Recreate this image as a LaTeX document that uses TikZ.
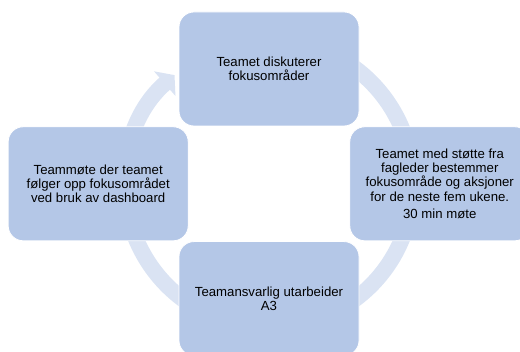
\documentclass[tikz,border=0pt]{standalone}
\usepackage{fontspec}
\setmainfont{Liberation Sans}
\usetikzlibrary{positioning}
\usetikzlibrary{arrows.meta,backgrounds}
\definecolor{boxblue}{RGB}{180,199,231}
\definecolor{ringblue}{RGB}{218,227,243}

\begin{document}
\begin{tikzpicture}[x=1pt,y=1pt,
  stage/.style={rectangle,rounded corners=15pt,draw=white,line width=0.8pt,fill=boxblue,
    minimum width=180pt,minimum height=114pt,inner sep=4pt,align=center,
    font=\fontsize{13.2}{14.4}\selectfont},
  ring/.style={draw=ringblue,line width=16pt,-{Triangle[width=32pt,length=13pt]}}]
\useasboundingbox (0,0) rectangle (520,352);
\clip (0,0) rectangle (520,352);
\node[stage] (discuss) at (269,283) {Teamet diskuterer\\fokusområder};
\node[stage,below right=0pt and -10pt of discuss] (decide) {Teamet med støtte fra\\fagleder bestemmer\\fokusområde og aksjoner\\for de neste fem ukene.\\[3pt]30 min møte};
\node[stage,below left=0pt and -10pt of discuss] (followup) {Teammøte der teamet\\følger opp fokusområdet\\ved bruk av dashboard};
\node[stage,below right=0pt and -10pt of followup] (draft) {Teamansvarlig utarbeider\\A3};
\begin{scope}[on background layer]
\coordinate (hub) at (discuss |- followup);
\draw[ring] (hub) ++(120:144) arc[start angle=120,end angle=-229,radius=144];
\end{scope}
\end{tikzpicture}
\end{document}
